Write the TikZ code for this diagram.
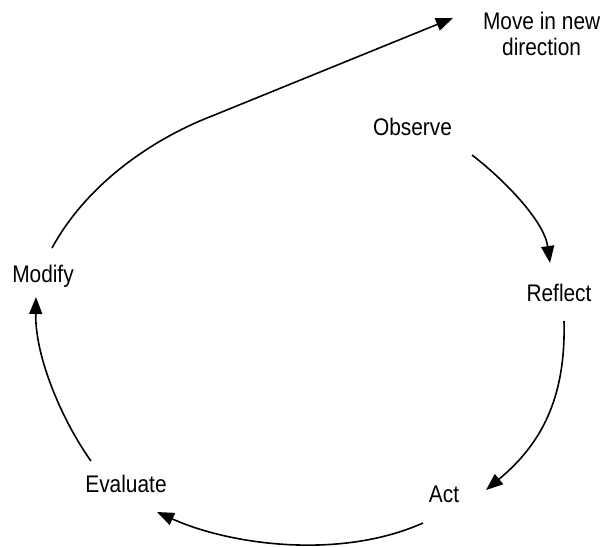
\documentclass[tikz,border=0pt]{standalone}
\usepackage{fontspec}
\setmainfont{Liberation Sans}[FakeStretch=0.87]
\usetikzlibrary{arrows.meta}
\begin{document}
\begin{tikzpicture}[x=1pt,y=-1pt,
  lbl/.style={inner sep=0pt,outer sep=0pt,font=\fontsize{24}{26}\selectfont},
  conn/.style={line width=1.6pt,-{Triangle[length=17pt,width=13pt]}}]
\useasboundingbox (0,0) rectangle (602,546);
\node[lbl,anchor=base] (obs) at (412.5,135) {Observe};
\node[lbl,anchor=base] (ref) at (559,301) {Reflect};
\node[lbl,anchor=base] (act) at (444,502.5) {Act};
\node[lbl,anchor=base] (eva) at (126,492.5) {Evaluate};
\node[lbl,anchor=base] (mod) at (43,282) {Modify};
\node[lbl,anchor=north west,align=center] (mov) at (483,12.5) {Move in new\\direction};
\coordinate (bend) at (212,116);
\draw[conn] ([shift={(59.5,20)}]obs.base) .. controls (502,178) and (544,220) .. ([shift={(-9,-38)}]ref.base);
\draw[conn] ([shift={(5,20)}]ref.base) .. controls (566,400) and (540,445) .. ([shift={(42,-12.5)}]act.base);
\draw[conn] ([shift={(-21,20.5)}]act.base) .. controls (340,560) and (230,545) .. ([shift={(31,19.5)}]eva.base);
\draw[conn] ([shift={(-35,-31.5)}]eva.base) .. controls (65,425) and (35,360) .. ([shift={(-7,15)}]mod.base);
\draw[conn] ([shift={(9,-34)}]mod.base) .. controls (88,182) and (155,138) .. (bend) -- ([shift={(-30,5.5)}]mov.north west);
\end{tikzpicture}
\end{document}
